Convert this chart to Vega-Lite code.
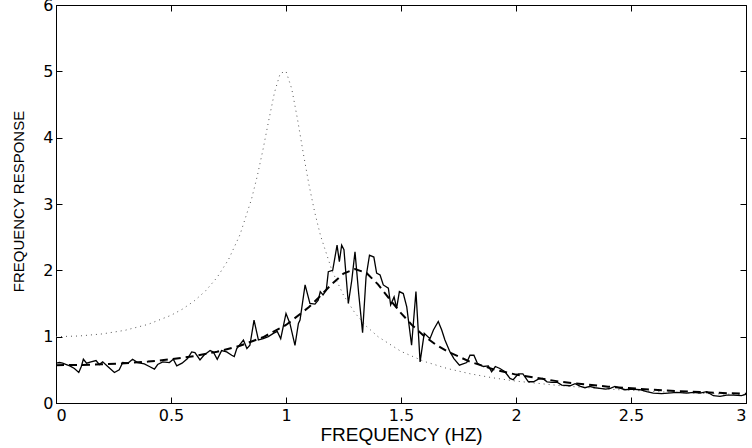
{
  "$schema": "https://vega.github.io/schema/vega-lite/v6.json",
  "width": 690,
  "height": 398,
  "autosize": {"type": "none"},
  "padding": {"left": 56, "top": 5, "right": 6, "bottom": 45},
  "background": "white",
  "config": {
    "view": {"stroke": "black", "strokeWidth": 1},
    "font": "Liberation Sans",
    "axis": {
      "domainColor": "black",
      "tickColor": "black",
      "labelColor": "black",
      "titleColor": "black",
      "grid": false,
      "labelFont": "DejaVu Sans",
      "titleFont": "Liberation Sans",
      "titleFontWeight": "normal",
      "labelFontSize": 16,
      "tickSize": -6,
      "format": "~g"
    }
  },
  "datasets": {
    "measured": [
      {"f": 0.000, "v": 0.60}, {"f": 0.015, "v": 0.61}, {"f": 0.029, "v": 0.60}, {"f": 0.045, "v": 0.58},
      {"f": 0.060, "v": 0.56}, {"f": 0.080, "v": 0.52}, {"f": 0.099, "v": 0.46}, {"f": 0.110, "v": 0.55},
      {"f": 0.119, "v": 0.66}, {"f": 0.133, "v": 0.60}, {"f": 0.152, "v": 0.62}, {"f": 0.174, "v": 0.64},
      {"f": 0.188, "v": 0.58}, {"f": 0.203, "v": 0.62}, {"f": 0.225, "v": 0.55}, {"f": 0.254, "v": 0.46},
      {"f": 0.275, "v": 0.50}, {"f": 0.290, "v": 0.61}, {"f": 0.312, "v": 0.60}, {"f": 0.333, "v": 0.66},
      {"f": 0.355, "v": 0.61}, {"f": 0.384, "v": 0.59}, {"f": 0.406, "v": 0.55}, {"f": 0.428, "v": 0.51},
      {"f": 0.442, "v": 0.58}, {"f": 0.464, "v": 0.62}, {"f": 0.493, "v": 0.61}, {"f": 0.510, "v": 0.66},
      {"f": 0.525, "v": 0.56}, {"f": 0.548, "v": 0.60}, {"f": 0.572, "v": 0.67}, {"f": 0.590, "v": 0.77},
      {"f": 0.604, "v": 0.76}, {"f": 0.626, "v": 0.65}, {"f": 0.643, "v": 0.72}, {"f": 0.670, "v": 0.79},
      {"f": 0.684, "v": 0.77}, {"f": 0.701, "v": 0.66}, {"f": 0.720, "v": 0.79}, {"f": 0.742, "v": 0.77},
      {"f": 0.764, "v": 0.72}, {"f": 0.775, "v": 0.70}, {"f": 0.786, "v": 0.82}, {"f": 0.815, "v": 0.95},
      {"f": 0.830, "v": 0.82}, {"f": 0.843, "v": 0.87}, {"f": 0.861, "v": 1.25}, {"f": 0.880, "v": 0.95},
      {"f": 0.901, "v": 0.97}, {"f": 0.923, "v": 1.00}, {"f": 0.945, "v": 1.05}, {"f": 0.962, "v": 1.08},
      {"f": 0.977, "v": 0.97}, {"f": 1.000, "v": 1.35}, {"f": 1.017, "v": 1.20}, {"f": 1.039, "v": 0.87},
      {"f": 1.054, "v": 1.20}, {"f": 1.061, "v": 1.25}, {"f": 1.083, "v": 1.78}, {"f": 1.104, "v": 1.50},
      {"f": 1.126, "v": 1.49}, {"f": 1.140, "v": 1.55}, {"f": 1.149, "v": 1.68}, {"f": 1.161, "v": 1.63},
      {"f": 1.175, "v": 1.70}, {"f": 1.184, "v": 1.98}, {"f": 1.203, "v": 2.00}, {"f": 1.222, "v": 2.38},
      {"f": 1.232, "v": 2.13}, {"f": 1.242, "v": 2.38}, {"f": 1.252, "v": 2.31}, {"f": 1.271, "v": 1.50},
      {"f": 1.286, "v": 1.85}, {"f": 1.300, "v": 2.28}, {"f": 1.316, "v": 1.65}, {"f": 1.333, "v": 1.06},
      {"f": 1.348, "v": 1.90}, {"f": 1.363, "v": 2.23}, {"f": 1.382, "v": 2.20}, {"f": 1.394, "v": 1.96},
      {"f": 1.409, "v": 1.93}, {"f": 1.423, "v": 1.78}, {"f": 1.445, "v": 1.73}, {"f": 1.455, "v": 1.48},
      {"f": 1.470, "v": 1.60}, {"f": 1.481, "v": 1.43}, {"f": 1.493, "v": 1.68}, {"f": 1.510, "v": 1.65},
      {"f": 1.525, "v": 1.45}, {"f": 1.546, "v": 0.87}, {"f": 1.565, "v": 1.68}, {"f": 1.583, "v": 0.62},
      {"f": 1.601, "v": 1.05}, {"f": 1.626, "v": 0.97}, {"f": 1.641, "v": 1.10}, {"f": 1.662, "v": 1.23},
      {"f": 1.677, "v": 1.10}, {"f": 1.691, "v": 0.95}, {"f": 1.713, "v": 0.77}, {"f": 1.730, "v": 0.67},
      {"f": 1.754, "v": 0.57}, {"f": 1.786, "v": 0.61}, {"f": 1.800, "v": 0.72}, {"f": 1.817, "v": 0.72},
      {"f": 1.832, "v": 0.60}, {"f": 1.858, "v": 0.55}, {"f": 1.880, "v": 0.56}, {"f": 1.894, "v": 0.47},
      {"f": 1.910, "v": 0.55}, {"f": 1.930, "v": 0.52}, {"f": 1.952, "v": 0.47}, {"f": 1.974, "v": 0.37},
      {"f": 1.988, "v": 0.35}, {"f": 2.010, "v": 0.44}, {"f": 2.030, "v": 0.44}, {"f": 2.054, "v": 0.32},
      {"f": 2.076, "v": 0.32}, {"f": 2.097, "v": 0.36}, {"f": 2.116, "v": 0.37}, {"f": 2.135, "v": 0.32},
      {"f": 2.157, "v": 0.31}, {"f": 2.180, "v": 0.31}, {"f": 2.199, "v": 0.27}, {"f": 2.235, "v": 0.26},
      {"f": 2.257, "v": 0.29}, {"f": 2.280, "v": 0.25}, {"f": 2.300, "v": 0.23}, {"f": 2.320, "v": 0.25},
      {"f": 2.344, "v": 0.23}, {"f": 2.365, "v": 0.22}, {"f": 2.390, "v": 0.21}, {"f": 2.410, "v": 0.22},
      {"f": 2.430, "v": 0.25}, {"f": 2.474, "v": 0.20}, {"f": 2.503, "v": 0.21}, {"f": 2.539, "v": 0.20},
      {"f": 2.568, "v": 0.17}, {"f": 2.597, "v": 0.15}, {"f": 2.633, "v": 0.14}, {"f": 2.662, "v": 0.15},
      {"f": 2.699, "v": 0.16}, {"f": 2.742, "v": 0.15}, {"f": 2.771, "v": 0.16}, {"f": 2.800, "v": 0.15},
      {"f": 2.829, "v": 0.17}, {"f": 2.858, "v": 0.11}, {"f": 2.887, "v": 0.10}, {"f": 2.916, "v": 0.12},
      {"f": 2.945, "v": 0.12}, {"f": 2.980, "v": 0.11}, {"f": 3.000, "v": 0.13}
    ],
    "model": [
      {"f": 0.0, "v": 1.000}, {"f": 0.1, "v": 1.010}, {"f": 0.2, "v": 1.041}, {"f": 0.3, "v": 1.096},
      {"f": 0.4, "v": 1.185}, {"f": 0.5, "v": 1.322}, {"f": 0.55, "v": 1.416}, {"f": 0.6, "v": 1.536},
      {"f": 0.65, "v": 1.689}, {"f": 0.7, "v": 1.891}, {"f": 0.75, "v": 2.162}, {"f": 0.8, "v": 2.538},
      {"f": 0.85, "v": 3.073}, {"f": 0.875, "v": 3.419}, {"f": 0.9, "v": 3.821}, {"f": 0.925, "v": 4.261},
      {"f": 0.95, "v": 4.682}, {"f": 0.975, "v": 4.971}, {"f": 1.0, "v": 5.000}, {"f": 1.025, "v": 4.736},
      {"f": 1.05, "v": 4.279}, {"f": 1.075, "v": 3.768}, {"f": 1.1, "v": 3.288}, {"f": 1.125, "v": 2.873},
      {"f": 1.15, "v": 2.525}, {"f": 1.2, "v": 1.995}, {"f": 1.25, "v": 1.625}, {"f": 1.3, "v": 1.356},
      {"f": 1.35, "v": 1.155}, {"f": 1.4, "v": 1.000}, {"f": 1.5, "v": 0.778}, {"f": 1.6, "v": 0.628},
      {"f": 1.7, "v": 0.521}, {"f": 1.8, "v": 0.441}, {"f": 1.9, "v": 0.379}, {"f": 2.0, "v": 0.330},
      {"f": 2.2, "v": 0.259}, {"f": 2.4, "v": 0.209}, {"f": 2.6, "v": 0.173}, {"f": 2.8, "v": 0.146},
      {"f": 3.0, "v": 0.125}
    ],
    "fit": [
      {"f": 0.0, "v": 0.570}, {"f": 0.1, "v": 0.573}, {"f": 0.2, "v": 0.583}, {"f": 0.3, "v": 0.599},
      {"f": 0.4, "v": 0.624}, {"f": 0.5, "v": 0.659}, {"f": 0.6, "v": 0.707}, {"f": 0.7, "v": 0.772},
      {"f": 0.8, "v": 0.863}, {"f": 0.9, "v": 0.991}, {"f": 1.0, "v": 1.176}, {"f": 1.1, "v": 1.446},
      {"f": 1.15, "v": 1.616}, {"f": 1.2, "v": 1.796}, {"f": 1.25, "v": 1.951}, {"f": 1.3, "v": 2.020},
      {"f": 1.35, "v": 1.960}, {"f": 1.4, "v": 1.788}, {"f": 1.45, "v": 1.568}, {"f": 1.5, "v": 1.354},
      {"f": 1.55, "v": 1.167}, {"f": 1.6, "v": 1.012}, {"f": 1.65, "v": 0.884}, {"f": 1.7, "v": 0.780},
      {"f": 1.8, "v": 0.622}, {"f": 1.9, "v": 0.510}, {"f": 2.0, "v": 0.428}, {"f": 2.2, "v": 0.317},
      {"f": 2.4, "v": 0.246}, {"f": 2.6, "v": 0.198}, {"f": 2.8, "v": 0.164}, {"f": 3.0, "v": 0.138}
    ]
  },
  "layer": [
    {
      "data": {"name": "model"},
      "mark": {"type": "line", "color": "#555555", "strokeWidth": 1, "strokeDash": [1, 4], "clip": true},
      "encoding": {
        "x": {"field": "f", "type": "quantitative", "scale": {"domain": [0, 3], "nice": false},
          "axis": {"orient": "top", "values": [0, 0.5, 1, 1.5, 2, 2.5, 3], "labels": false, "title": null, "domain": false}},
        "y": {"field": "v", "type": "quantitative", "scale": {"domain": [0, 6], "nice": false},
          "axis": {"orient": "right", "values": [0, 1, 2, 3, 4, 5, 6], "labels": false, "title": null, "domain": false}}
      }
    },
    {
      "data": {"name": "fit"},
      "mark": {"type": "line", "color": "black", "strokeWidth": 2, "strokeDash": [8, 5], "clip": true},
      "encoding": {
        "x": {"field": "f", "type": "quantitative", "axis": null},
        "y": {"field": "v", "type": "quantitative", "axis": null}
      }
    },
    {
      "data": {"name": "measured"},
      "mark": {"type": "line", "color": "black", "strokeWidth": 1.3, "clip": true},
      "encoding": {
        "x": {"field": "f", "type": "quantitative",
          "axis": {"orient": "bottom", "values": [0, 0.5, 1, 1.5, 2, 2.5, 3], "title": "FREQUENCY (HZ)",
            "titleFontSize": 19, "titleBaseline": "alphabetic", "titleY": 37, "labelPadding": 10}},
        "y": {"field": "v", "type": "quantitative",
          "axis": {"orient": "left", "values": [0, 1, 2, 3, 4, 5, 6], "title": "FREQUENCY RESPONSE",
            "titleFontSize": 15, "titleX": -38, "titleY": 196, "titleBaseline": "middle", "labelPadding": 9}}
      }
    }
  ],
  "resolve": {"axis": {"x": "independent", "y": "independent"}}
}
